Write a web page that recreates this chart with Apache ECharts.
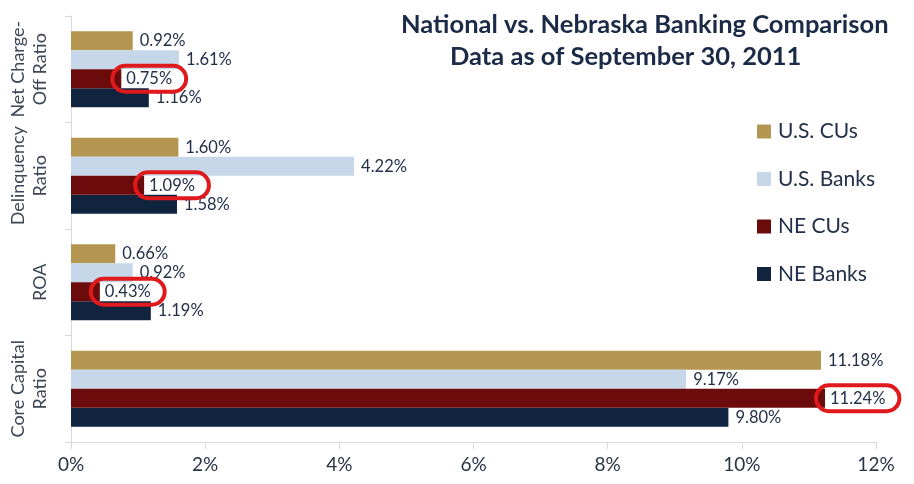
<!DOCTYPE html>
<html>
<head>
<meta charset="utf-8">
<script src="https://cdn.jsdelivr.net/npm/echarts@6/dist/echarts.min.js"></script>
<style>html,body{margin:0;padding:0;background:#fff;}#c{width:914px;height:484px;}</style>
</head>
<body>
<div id="c"></div>
<script>
const categories = ['Net Charge-\nOff Ratio', 'Delinquency\nRatio', 'ROA', 'Core Capital\nRatio'];
const usCUs = [0.92, 1.60, 0.66, 11.18];
const usBanks = [1.61, 4.22, 0.92, 9.17];
const neCUs = [0.75, 1.09, 0.43, 11.24];
const neBanks = [1.16, 1.58, 1.19, 9.80];
const xTicks = [0, 2, 4, 6, 8, 10, 12];
const seriesNames = ['U.S. CUs', 'U.S. Banks', 'NE CUs', 'NE Banks'];
const colors = ['#B49650', '#C6D7EA', '#6C0B0B', '#10243F'];

const FONT = 'Lato';
const textColor = '#22304A';

const chart = echarts.init(document.getElementById('c'));
const baseLabel = {
  show: true,
  position: 'right',
  distance: 7,
  fontFamily: FONT,
  fontSize: 16.5,
  color: textColor,
  formatter: p => p.value.toFixed(2) + '%'
};
function mk(name, data, color, circled) {
  const label = circled ? Object.assign({}, baseLabel, {
    distance: -9,
    borderColor: '#E0191C',
    borderWidth: 2,
    borderRadius: 40,
    padding: [5, 14, 4, 14],
    backgroundColor: 'rgba(255,255,255,0)'
  }) : baseLabel;
  return {
    name: name,
    type: 'bar',
    data: data,
    itemStyle: { color: color },
    barGap: '0%',
    barCategoryGap: '28.6%',
    label: label,
    z: circled ? 3 : 2
  };
}
chart.setOption({
  animation: false,
  color: colors,
  title: [
    { text: 'National vs. Nebraska Banking Comparison', left: 396, top: 7,
      textStyle: { fontFamily: FONT, fontWeight: 'bold', fontSize: 25.5, color: '#1B2A47' } },
    { text: 'Data as of September 30, 2011', left: 445, top: 39,
      textStyle: { fontFamily: FONT, fontWeight: 'bold', fontSize: 25.5, color: '#1B2A47' } }
  ],
  legend: {
    orient: 'vertical',
    left: 752,
    top: 116,
    itemWidth: 14,
    itemHeight: 14,
    itemGap: 26.5,
    icon: 'rect',
    textStyle: { fontFamily: FONT, fontSize: 21, lineHeight: 21, color: textColor, padding: [0, 0, 0, 2] },
    data: seriesNames
  },
  grid: { left: 71, right: 38, top: 16, bottom: 42, containLabel: false },
  xAxis: {
    type: 'value',
    min: 0,
    max: 12,
    interval: 2,
    axisLine: { show: true, lineStyle: { color: '#D9D9D9', width: 1 } },
    axisTick: { show: true, length: 7, lineStyle: { color: '#D9D9D9' } },
    splitLine: { show: false },
    axisLabel: {
      fontFamily: FONT, fontSize: 19, color: '#2A3446', margin: 13,
      formatter: v => xTicks.includes(v) ? v + '%' : ''
    }
  },
  yAxis: {
    type: 'category',
    data: categories,
    inverse: true,
    axisLine: { show: true, lineStyle: { color: '#D9D9D9', width: 1 } },
    axisTick: { show: true, length: 6, lineStyle: { color: '#D9D9D9' } },
    axisLabel: {
      interval: 0, hideOverlap: false,
      rotate: 90, fontFamily: FONT, fontSize: 18, lineHeight: 22, color: '#3E4757', margin: 20,
      align: 'center', verticalAlign: 'bottom'
    }
  },
  series: [
    mk(seriesNames[0], usCUs, colors[0], false),
    mk(seriesNames[1], usBanks, colors[1], false),
    mk(seriesNames[2], neCUs, colors[2], true),
    mk(seriesNames[3], neBanks, colors[3], false)
  ]
});
</script>
</body>
</html>
